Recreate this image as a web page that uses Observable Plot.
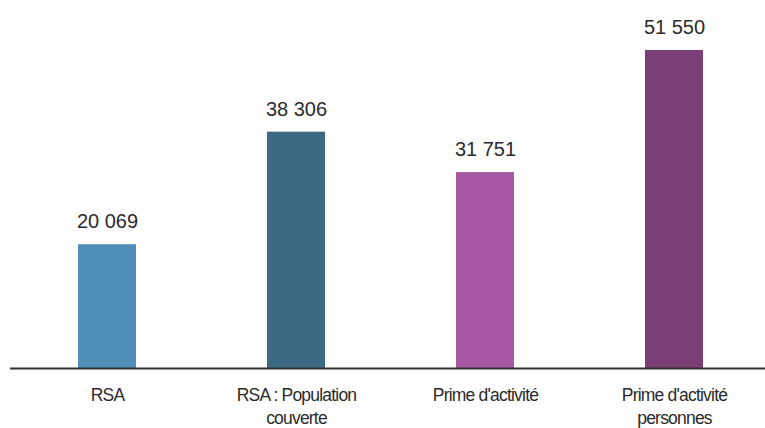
<!DOCTYPE html>
<html>
<head>
<meta charset="utf-8">
<script src="https://cdn.jsdelivr.net/npm/d3@7"></script>
<script src="https://cdn.jsdelivr.net/npm/@observablehq/plot@0.6"></script>
<style>
  html, body { margin: 0; padding: 0; background: #fff; }
  #chart svg { display: block; }
  .cat-labels text { letter-spacing: -0.8px; }
</style>
</head>
<body>
<div id="chart"></div>
<script>
const categories = ["RSA", "RSA : Population\ncouverte", "Prime d'activité", "Prime d'activité\npersonnes"];
const values = [20069, 38306, 31751, 51550];
const colors = ["#4f8fb9", "#3c6a85", "#a557a2", "#7a3f76"];

const data = categories.map((c, i) => ({cat: c, value: values[i], color: colors[i]}));
const fr = d3.formatLocale({decimal: ",", thousands: " ", grouping: [3], currency: ["", " €"]}).format(",d");

const chart = Plot.plot({
  width: 765,
  height: 428,
  marginTop: 0,
  marginLeft: 10,
  marginRight: 0,
  marginBottom: 60,
  style: {fontFamily: "'Liberation Sans', Arial, sans-serif", background: "#fff"},
  x: {domain: categories, range: [12.5, 768.5], paddingInner: 0.693, paddingOuter: 0.3465, axis: null},
  y: {domain: [0, 59650], axis: null},
  marks: [
    Plot.barY(data, {x: "cat", y: "value", fill: "color"}),
    Plot.ruleY([0], {stroke: "#333", strokeWidth: 2}),
    Plot.text(data, {x: "cat", y: "value", text: d => fr(d.value), dy: -23, fontSize: 20, fill: "#2b2b2b"}),
    Plot.text(data, {x: "cat", y: () => 0, text: "cat", lineAnchor: "top", dy: 16, fontSize: 17.5, lineHeight: 1.33, fill: "#2b2b2b", className: "cat-labels"})
  ]
});
document.getElementById("chart").appendChild(chart);
</script>
</body>
</html>
